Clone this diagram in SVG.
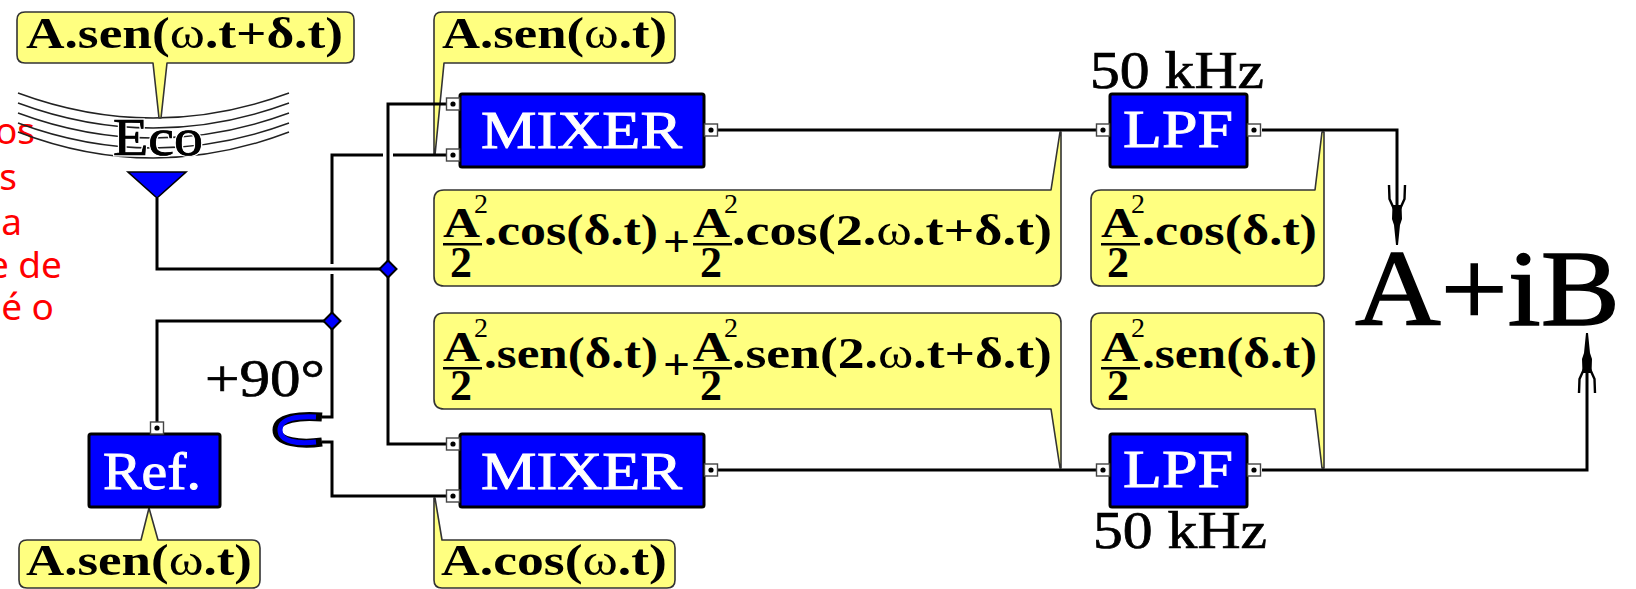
<svg xmlns="http://www.w3.org/2000/svg" xmlns:xlink="http://www.w3.org/1999/xlink" width="1636" height="589" viewBox="0 0 1636 589">
<style>
text{font-family:"Liberation Serif","Times New Roman",serif;fill:#000}
.call{fill:#ffff80;stroke:#333;stroke-width:1.6;stroke-linejoin:round}
.box{fill:#0000ff;stroke:#000;stroke-width:3;stroke-linejoin:round}
.wire{fill:none;stroke:#000;stroke-width:3;stroke-linejoin:miter}
.arc{fill:none;stroke:#222;stroke-width:1.4}
.lab{font-size:52px;fill:#fff;stroke:#fff;stroke-width:.9px}
.f{font-size:44px;font-weight:bold}
.w{font-weight:normal}
.sup{font-size:28px}
.two{font-size:44px;font-weight:bold}
.a{font-size:42px;font-weight:bold}
.plus{font-size:44px;font-weight:bold}
.blk{font-size:52px;stroke:#000;stroke-width:.7px}
.red{font-family:"Noto Sans",Tahoma,sans-serif;font-size:37px;fill:#ff0000;text-anchor:end}
.bar{fill:#000}
.dia{fill:#0000ff;stroke:#000;stroke-width:2}
.pbox{fill:#fff;stroke:#444;stroke-width:1.4}
</style>
<defs>
<marker id="arrow" markerUnits="userSpaceOnUse" orient="auto" markerWidth="60" markerHeight="20" viewBox="0 0 60 20" refX="40" refY="10">
<path d="M60,9 L60,11 L40,13 L34,15 L20,14.5 L20,5.5 L34,5 L40,7Z" fill="#000"/>
<path d="M0,2 L14,2.5 L24,7 M0,18 L14,17.5 L24,13" fill="none" stroke="#000" stroke-width="2.4"/>
</marker>
<g id="port"><rect class="pbox" x="-6.5" y="-6" width="13" height="12"/><circle r="2.6" fill="#000"/></g>
</defs>
<rect width="1636" height="589" fill="#fff"/>

<g id="red-note">
<text class="red" x="35" y="144">os</text>
<text class="red" x="17" y="190">s</text>
<text class="red" x="22" y="235">sa</text>
<text class="red" x="62" y="278">e de</text>
<text class="red" x="54" y="320">é o</text>
</g>

<g id="echo">
<path class="arc" d="M18,93 Q153,143 289,93"/>
<path class="arc" d="M18,103 Q153,153 289,103"/>
<path class="arc" d="M18,113 Q153,163 289,113"/>
<path class="arc" d="M18,123 Q153,173 289,123"/>
<path class="arc" d="M18,132 Q153,184 289,132"/>
<text x="113" y="155" font-size="52" textLength="90" lengthAdjust="spacingAndGlyphs" style="paint-order:stroke;stroke:#fff;stroke-width:3px">Eco</text>
<text class="blk" x="113" y="155" textLength="90" lengthAdjust="spacingAndGlyphs">Eco</text>
</g>

<g id="callout-echo">
<path class="call" d="M25,12 H346 Q354,12 354,20 V55 Q354,63 346,63 H167 L161,118 H159 L153,63 H25 Q17,63 17,55 V20 Q17,12 25,12Z"/>
<text class="f" x="26" y="48" textLength="317" lengthAdjust="spacingAndGlyphs">A.sen(<tspan class="w">ω</tspan>.t+δ.t)</text>
</g>
<g id="callout-mixer1">
<path class="call" d="M442,12 H667 Q675,12 675,20 V55 Q675,63 667,63 H444 L435,155 H434 V20 Q434,12 442,12Z"/>
<text class="f" x="442" y="48" textLength="225" lengthAdjust="spacingAndGlyphs">A.sen(<tspan class="w">ω</tspan>.t)</text>
</g>
<g id="callout-top-sum">
<path class="call" d="M444,190 H1051 L1060,132 H1061 V276 Q1061,286 1051,286 H444 Q434,286 434,276 V200 Q434,190 444,190Z"/>
<text class="a" x="443" y="237" textLength="37" lengthAdjust="spacingAndGlyphs">A</text>
<text class="sup" x="474" y="213">2</text>
<rect class="bar" x="443" y="243" width="39" height="2.5"/>
<text class="two" x="450" y="277">2</text>
<text class="f" x="484" y="245" textLength="174" lengthAdjust="spacingAndGlyphs">.cos(δ.t)</text>
<text class="plus" x="663" y="256" textLength="27" lengthAdjust="spacingAndGlyphs">+</text>
<text class="a" x="693" y="237" textLength="37" lengthAdjust="spacingAndGlyphs">A</text>
<text class="sup" x="724" y="213">2</text>
<rect class="bar" x="693" y="243" width="39" height="2.5"/>
<text class="two" x="700" y="277">2</text>
<text class="f" x="732" y="245" textLength="320" lengthAdjust="spacingAndGlyphs">.cos(2.<tspan class="w">ω</tspan>.t+δ.t)</text>
</g>
<g id="callout-top-lpf">
<path class="call" d="M1101,190 H1315 L1322,132 H1324 V276 Q1324,286 1314,286 H1101 Q1091,286 1091,276 V200 Q1091,190 1101,190Z"/>
<text class="a" x="1101" y="237" textLength="37" lengthAdjust="spacingAndGlyphs">A</text>
<text class="sup" x="1131" y="213">2</text>
<rect class="bar" x="1101" y="243" width="39" height="2.5"/>
<text class="two" x="1107" y="277">2</text>
<text class="f" x="1142" y="245" textLength="175" lengthAdjust="spacingAndGlyphs">.cos(δ.t)</text>
</g>
<g id="callout-bottom-sum">
<path class="call" d="M444,313 H1051 Q1061,313 1061,323 V468 H1060 L1051,409 H444 Q434,409 434,399 V323 Q434,313 444,313Z"/>
<text class="a" x="443" y="361" textLength="37" lengthAdjust="spacingAndGlyphs">A</text>
<text class="sup" x="474" y="337">2</text>
<rect class="bar" x="443" y="367" width="39" height="2.5"/>
<text class="two" x="450" y="400">2</text>
<text class="f" x="484" y="368" textLength="174" lengthAdjust="spacingAndGlyphs">.sen(δ.t)</text>
<text class="plus" x="663" y="379" textLength="27" lengthAdjust="spacingAndGlyphs">+</text>
<text class="a" x="693" y="361" textLength="37" lengthAdjust="spacingAndGlyphs">A</text>
<text class="sup" x="724" y="337">2</text>
<rect class="bar" x="693" y="367" width="39" height="2.5"/>
<text class="two" x="700" y="400">2</text>
<text class="f" x="732" y="368" textLength="320" lengthAdjust="spacingAndGlyphs">.sen(2.<tspan class="w">ω</tspan>.t+δ.t)</text>
</g>
<g id="callout-bottom-lpf">
<path class="call" d="M1101,313 H1314 Q1324,313 1324,323 V468 H1322 L1315,409 H1101 Q1091,409 1091,399 V323 Q1091,313 1101,313Z"/>
<text class="a" x="1101" y="361" textLength="37" lengthAdjust="spacingAndGlyphs">A</text>
<text class="sup" x="1131" y="337">2</text>
<rect class="bar" x="1101" y="367" width="39" height="2.5"/>
<text class="two" x="1107" y="400">2</text>
<text class="f" x="1142" y="368" textLength="175" lengthAdjust="spacingAndGlyphs">.sen(δ.t)</text>
</g>
<g id="callout-ref">
<path class="call" d="M27,540 H141 L149,508 L158,540 H252 Q260,540 260,548 V580 Q260,588 252,588 H27 Q19,588 19,580 V548 Q19,540 27,540Z"/>
<text class="f" x="26" y="575" textLength="226" lengthAdjust="spacingAndGlyphs">A.sen(<tspan class="w">ω</tspan>.t)</text>
</g>
<g id="callout-mixer2">
<path class="call" d="M442,540 H667 Q675,540 675,548 V580 Q675,588 667,588 H442 Q434,588 434,580 V498 H435 Z"/>
<text class="f" x="441" y="575" textLength="226" lengthAdjust="spacingAndGlyphs">A.cos(<tspan class="w">ω</tspan>.t)</text>
</g>

<g id="connectors">
<path class="wire" d="M157,198 V269 H388"/>
<path class="wire" d="M452,104 H388 V444 H452"/>
<path class="wire" d="M157,428 V321 H332"/>
<path class="wire" d="M452,155 H393 M383,155 H332 V264 M332,274 V417 H322"/>
<path class="wire" d="M322,442 H332 V496 H452"/>
<path class="wire" d="M717,130 H1096"/>
<path class="wire" d="M717,470 H1096"/>
<path class="wire" d="M1262,130 H1397 V225" marker-end="url(#arrow)"/>
<path class="wire" d="M1262,470 H1587 V353" marker-end="url(#arrow)"/>
<path class="dia" d="M388,260.5 L396.5,269 L388,277.5 L379.5,269Z"/>
<path class="dia" d="M332,312.5 L340.5,321 L332,329.5 L323.5,321Z"/>
</g>

<g id="antenna"><path d="M128,172 H186 L157,198Z" fill="#0000ff" stroke="#000" stroke-width="1.6"/></g>

<g id="phase-shift">
<text class="blk" x="205" y="396" textLength="120" lengthAdjust="spacingAndGlyphs">+90°</text>
<path d="M322,417 C300,415 277,418 277,430 C277,442 300,445 322,442" fill="none" stroke="#000" stroke-width="9"/>
<path d="M316,417 C298,416 280,418 280,430 C280,442 298,444 316,442" fill="none" stroke="#0000ff" stroke-width="5"/>
</g>

<g id="mixer1">
<rect class="box" x="460" y="94" width="244" height="73" rx="2"/>
<use xlink:href="#port" href="#port" x="453" y="104"/><use xlink:href="#port" href="#port" x="453" y="155"/><use xlink:href="#port" href="#port" x="711" y="130"/>
<text class="lab" x="481" y="148" textLength="201" lengthAdjust="spacingAndGlyphs">MIXER</text>
</g>
<g id="mixer2">
<rect class="box" x="460" y="434" width="244" height="73" rx="2"/>
<use xlink:href="#port" href="#port" x="453" y="444"/><use xlink:href="#port" href="#port" x="453" y="496"/><use xlink:href="#port" href="#port" x="711" y="470"/>
<text class="lab" x="481" y="489" textLength="201" lengthAdjust="spacingAndGlyphs">MIXER</text>
</g>
<g id="lpf1">
<rect class="box" x="1110" y="94" width="137" height="73" rx="2"/>
<use xlink:href="#port" href="#port" x="1103" y="130"/><use xlink:href="#port" href="#port" x="1254" y="130"/>
<text class="lab" x="1123" y="147" textLength="110" lengthAdjust="spacingAndGlyphs">LPF</text>
<text class="blk" x="1090" y="88" textLength="174" lengthAdjust="spacingAndGlyphs">50 kHz</text>
</g>
<g id="lpf2">
<rect class="box" x="1110" y="434" width="137" height="73" rx="2"/>
<use xlink:href="#port" href="#port" x="1103" y="470"/><use xlink:href="#port" href="#port" x="1254" y="470"/>
<text class="lab" x="1123" y="487" textLength="110" lengthAdjust="spacingAndGlyphs">LPF</text>
<text class="blk" x="1093" y="548" textLength="174" lengthAdjust="spacingAndGlyphs">50 kHz</text>
</g>
<g id="ref">
<rect class="box" x="89" y="434" width="131" height="73" rx="2"/>
<use xlink:href="#port" href="#port" x="157" y="428"/>
<text class="lab" x="103" y="489" textLength="98" lengthAdjust="spacingAndGlyphs">Ref.</text>
</g>
<g id="result">
<text x="1355" y="325" font-size="109" textLength="265" lengthAdjust="spacingAndGlyphs" style="stroke:#000;stroke-width:1.4px">A+iB</text>
</g>
</svg>
